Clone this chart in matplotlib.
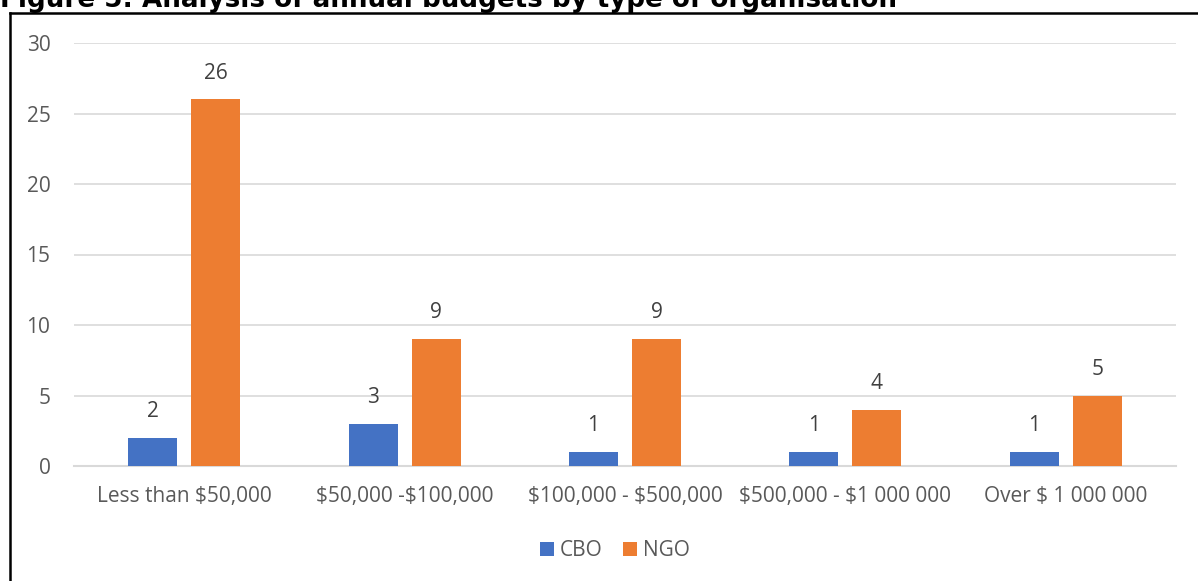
import numpy as np
import matplotlib.pyplot as plt
from matplotlib.lines import Line2D

# Data
categories = ["Less than $50,000", "$50,000 -$100,000", "$100,000 - $500,000",
              "$500,000 - $1 000 000", "Over $ 1 000 000"]
cbo = [2, 3, 1, 1, 1]
ngo = [26, 9, 9, 4, 5]

plt.rcParams['font.family'] = ['Open Sans', 'DejaVu Sans']
plt.rcParams['text.parse_math'] = False

W, H = 1198, 581
fig = plt.figure(figsize=(W / 100, H / 100), dpi=100)
ax = fig.add_axes([74 / W, 1 - 466 / H, (1176 - 74) / W, (466 - 43) / H])

x = np.arange(len(categories))
bw = 0.222
off = 0.143
b1 = ax.bar(x - off, cbo, bw, color="#4472C4", label="CBO", zorder=3)
b2 = ax.bar(x + off, ngo, bw, color="#ED7D31", label="NGO", zorder=3)

for bars in (b1, b2):
    for r in bars:
        ax.annotate(f"{int(r.get_height())}", (r.get_x() + r.get_width() / 2, r.get_height()),
                    xytext=(0, 19), textcoords="offset points", ha="center", va="center",
                    fontsize=15, color="#404040")

ax.set_xlim(-0.5, len(categories) - 0.5)
ax.set_ylim(0, 30)
ax.set_yticks(range(0, 31, 5))
ax.set_xticks(x)
ax.set_xticklabels(categories)
ax.grid(axis="y", color="#d9d9d9", lw=1.2, zorder=0)
for s in ["top", "right", "left"]:
    ax.spines[s].set_visible(False)
ax.spines["bottom"].set_color("#d9d9d9")
ax.spines["bottom"].set_linewidth(1.5)
ax.tick_params(axis="both", length=0, labelsize=15, labelcolor="#595959")
ax.tick_params(axis="y", pad=17)
ax.tick_params(axis="x", pad=14.5)

ax.legend(loc="center", bbox_to_anchor=(541 / 1102, (466 - 551) / 423), ncol=2,
          frameon=False, fontsize=15, handlelength=0.65, handleheight=0.65,
          handletextpad=0.3, columnspacing=1.0, labelcolor="#595959",
          bbox_transform=ax.transAxes)

# outer frame (left and top edges visible)
fig.add_artist(Line2D([9.5 / W, 9.5 / W], [0, 1 - 13 / H], color="black", lw=1.8))
fig.add_artist(Line2D([9.5 / W, 1], [1 - 13 / H, 1 - 13 / H], color="black", lw=1.8))

fig.text(0.0, 1 - 7 / H, "Figure 5: Analysis of annual budgets by type of organisation",
         fontsize=18.8, fontweight="bold", family="DejaVu Sans", ha="left", va="baseline")

fig.savefig("out.png", dpi=100)
